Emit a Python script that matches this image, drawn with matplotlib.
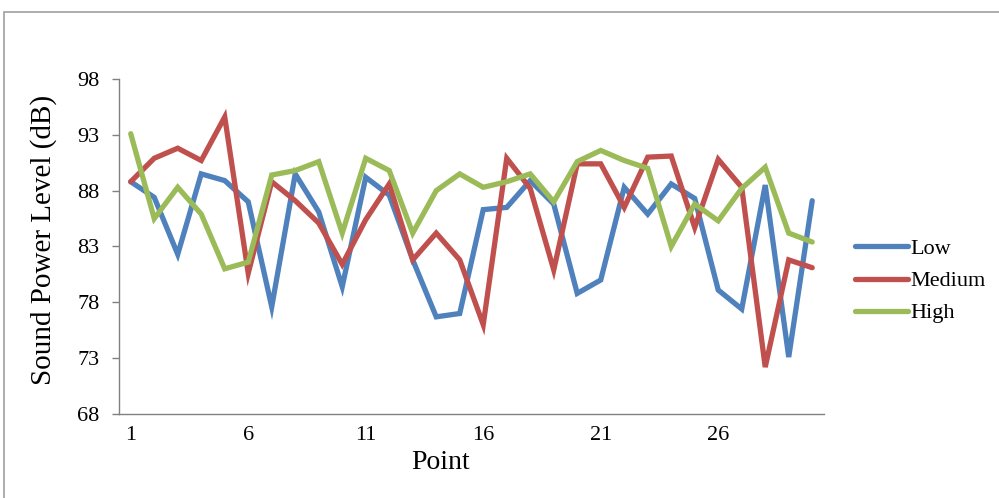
import matplotlib
matplotlib.use("Agg")
import matplotlib.pyplot as plt
import matplotlib.patches as mpl_patches

plt.rcParams['font.family'] = ['Liberation Serif', 'DejaVu Serif']

points = list(range(1, 31))
low = [88.8, 87.4, 82.3, 89.5, 88.9, 87.0, 77.6, 89.5, 86.1, 79.4,
       89.2, 87.6, 81.8, 76.7, 77.0, 86.3, 86.5, 88.9, 86.8, 78.8,
       80.0, 88.3, 85.9, 88.6, 87.3, 79.1, 77.4, 88.5, 73.1, 87.1]
medium = [88.8, 90.9, 91.8, 90.7, 94.6, 80.6, 88.8, 87.1, 85.1, 81.4,
          85.4, 88.6, 81.8, 84.2, 81.8, 76.0, 90.9, 88.2, 80.9, 90.4,
          90.4, 86.5, 91.0, 91.1, 84.7, 90.8, 88.3, 72.2, 81.8, 81.1]
high = [93.1, 85.5, 88.3, 85.9, 81.0, 81.6, 89.4, 89.8, 90.6, 84.2,
        90.9, 89.8, 84.2, 88.0, 89.5, 88.3, 88.8, 89.5, 87.0, 90.6,
        91.6, 90.7, 90.0, 83.0, 86.8, 85.3, 88.2, 90.1, 84.2, 83.4]
series = {'Low': (low, '#4F81BD'), 'Medium': (medium, '#C0504D'), 'High': (high, '#9BBB59')}
xticks = [1, 6, 11, 16, 21, 26]
yticks = [68, 73, 78, 83, 88, 93, 98]

fig = plt.figure(figsize=(9.99, 4.98), dpi=100)
# outer frame of the chart area
fig.patches.append(mpl_patches.Rectangle((4 / 999, -0.05), 1.2, 1 - 12 / 498 + 0.05,
                                         transform=fig.transFigure, fill=False,
                                         edgecolor='#a0a0a0', linewidth=1.2))
ax = fig.add_axes([0.1191, 0.1687, 0.7057, 0.6727])

for name, (vals, color) in series.items():
    ax.plot(points, vals, color=color, linewidth=3.8, label=name,
            solid_joinstyle='miter', solid_capstyle='round')

ax.set_xlim(0.5, 30.5)
ax.set_ylim(68, 98)
ax.set_xticks(xticks)
ax.set_yticks(yticks)
ax.tick_params(axis='x', length=0, pad=9, labelsize=16)
ax.tick_params(axis='y', length=5, width=1, color='#808080', pad=9, labelsize=16)
for s in ['top', 'right']:
    ax.spines[s].set_visible(False)
for s in ['left', 'bottom']:
    ax.spines[s].set_color('#808080')
    ax.spines[s].set_linewidth(1)

fig.text(441 / 999, 1 - 462 / 498, 'Point', fontsize=20, ha='center', va='center')
fig.text(44 / 999, 1 - 240 / 498, 'Sound Power Level (dB)', fontsize=21,
         rotation=90, ha='center', va='center')

fig.legend(loc='center left', bbox_to_anchor=(0.856, 1 - 281 / 498), frameon=False,
           fontsize=16, handlelength=2.4, handletextpad=0.1, labelspacing=0.52,
           borderpad=0, borderaxespad=0)

fig.savefig('out.png', dpi=100)
